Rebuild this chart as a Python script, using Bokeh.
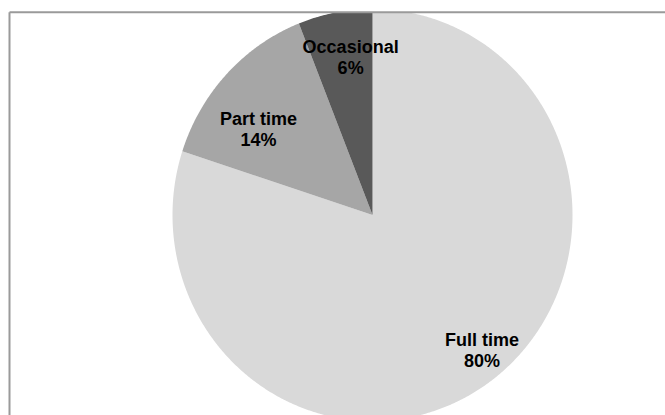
import numpy as np
from bokeh.plotting import figure
from bokeh.models import Range1d, ColumnDataSource
from bokeh.core.properties import value
from bokeh.embed import file_html
from bokeh.resources import INLINE

# Employment type shares (percent)
categories = ["Full time", "Part time", "Occasional"]
shares = [80, 14, 6]
colors = ["#d9d9d9", "#a6a6a6", "#595959"]

# Label placement: (angle clockwise from 12 o'clock in degrees, fraction of radius)
label_polar = [(138.8, 0.832), (308.2, 0.726), (352.2, 0.806)]

W, H = 665, 415
CX, CY = 372.0, 214.5      # pie centre (screen pixels, y downwards)
RX, RY = 200.0, 206.0      # horizontal / vertical radius

p = figure(width=W, height=H,
           x_range=Range1d(0, W), y_range=Range1d(H, 0),
           x_axis_type=None, y_axis_type=None,
           output_backend="svg", toolbar_location=None,
           min_border=0, background_fill_color="white",
           border_fill_color="white")
p.grid.visible = False
p.outline_line_color = None

# Slices, clockwise from 12 o'clock
total = float(sum(shares))
edges = np.concatenate([[0.0], np.cumsum(shares)]) / total * 2 * np.pi
xs, ys = [], []
for a0, a1 in zip(edges[:-1], edges[1:]):
    n = max(12, int((a1 - a0) / (2 * np.pi) * 900))
    t = np.linspace(a0, a1, n)
    xs.append([CX] + list(CX + RX * np.sin(t)))
    ys.append([CY] + list(CY - RY * np.cos(t)))
p.patches(xs=xs, ys=ys, fill_color=colors, line_color=None)

# Plot area clips the top of the pie
p.quad(left=[-5], right=[W + 5], top=[-5], bottom=[12], fill_color="white", line_color=None)

# Plot area border (left and top edges)
p.segment(x0=[9, 9], y0=[11.8, 11.8], x1=[9, W + 5], y1=[H + 5, 11.8],
          line_color="#9a9a9a", line_width=2)

# Data labels: category name and percentage
lx, ly = [], []
for ang, fr in label_polar:
    a = np.deg2rad(ang)
    lx.append(CX + fr * RX * np.sin(a))
    ly.append(CY - fr * RY * np.cos(a))

src = ColumnDataSource(dict(
    x=lx,
    y_name=[y - 4 for y in ly],
    y_pct=[y + 17 for y in ly],
    name=categories,
    pct=[f"{v}%" for v in shares],
))
common = dict(text_font=value("Liberation Sans"), text_font_style="bold",
              text_font_size="18px", text_align="center",
              text_baseline="alphabetic", text_color="#000000")
p.text(x="x", y="y_name", text="name", source=src, **common)
p.text(x="x", y="y_pct", text="pct", source=src, **common)

open("out.html", "w").write(file_html(p, INLINE))
